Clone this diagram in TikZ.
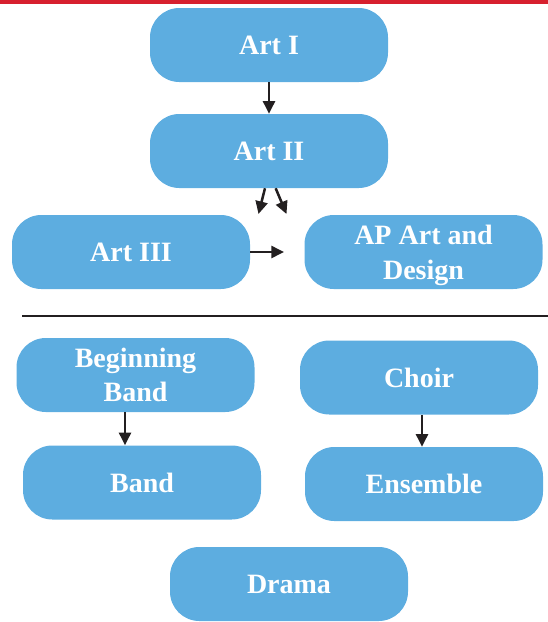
\documentclass[tikz,border=0pt]{standalone}
\usepackage{fontspec}
\setmainfont{Liberation Serif}
\usetikzlibrary{arrows.meta}
\definecolor{boxblue}{HTML}{5DADE0}
\definecolor{topred}{HTML}{D7202E}
\definecolor{inkblack}{HTML}{231F20}
\begin{document}
\begin{tikzpicture}[x=0.75pt,y=-0.75pt,
  course/.style={fill=boxblue, draw=none, rounded corners=22pt,
    minimum width=178.5pt, minimum height=55.5pt, inner sep=0pt,
    text=white, font=\fontsize{21}{26}\selectfont\bfseries, align=center},
  arr/.style={draw=inkblack, line width=1.9pt,
    -{Triangle[length=9.5pt,width=9pt]}}]
\useasboundingbox (0,0) rectangle (548,622);
\fill[topred] (0,0) rectangle (548,3.5);
\draw[inkblack, line width=2.2pt] (22,316) -- (548,316);

\node[course] (art1) at (269,45) {Art I};
\node[course] (art2) at (269,151) {Art II};
\node[course] (art3) at (131,252) {Art III};
\node[course, text depth=-3pt] (ap) at (423.5,252) {AP Art and\\Design};
\node[course] (bband) at (135.5,375) {Beginning\\Band};
\node[course] (choir) at (419,377.5) {Choir};
\node[course] (band) at (142,482.5) {Band};
\node[course] (ens) at (424,484) {Ensemble};
\node[course] (drama) at (289,584) {Drama};

\coordinate (a2l) at (258.5,214);
\coordinate (a2r) at (286.5,214);
\coordinate (a3e) at (284,252);

\draw[arr] (art1.south) -- (art2.north);
\draw[arr] ([xshift=-3pt]art2.south) -- (a2l);
\draw[arr] ([xshift=5pt]art2.south) -- (a2r);
\draw[arr] (art3.east) -- (a3e);
\draw[arr] (bband.south -| 125,0) -- (band.north -| 125,0);
\draw[arr] (choir.south -| 422,0) -- (ens.north -| 422,0);
\end{tikzpicture}
\end{document}
